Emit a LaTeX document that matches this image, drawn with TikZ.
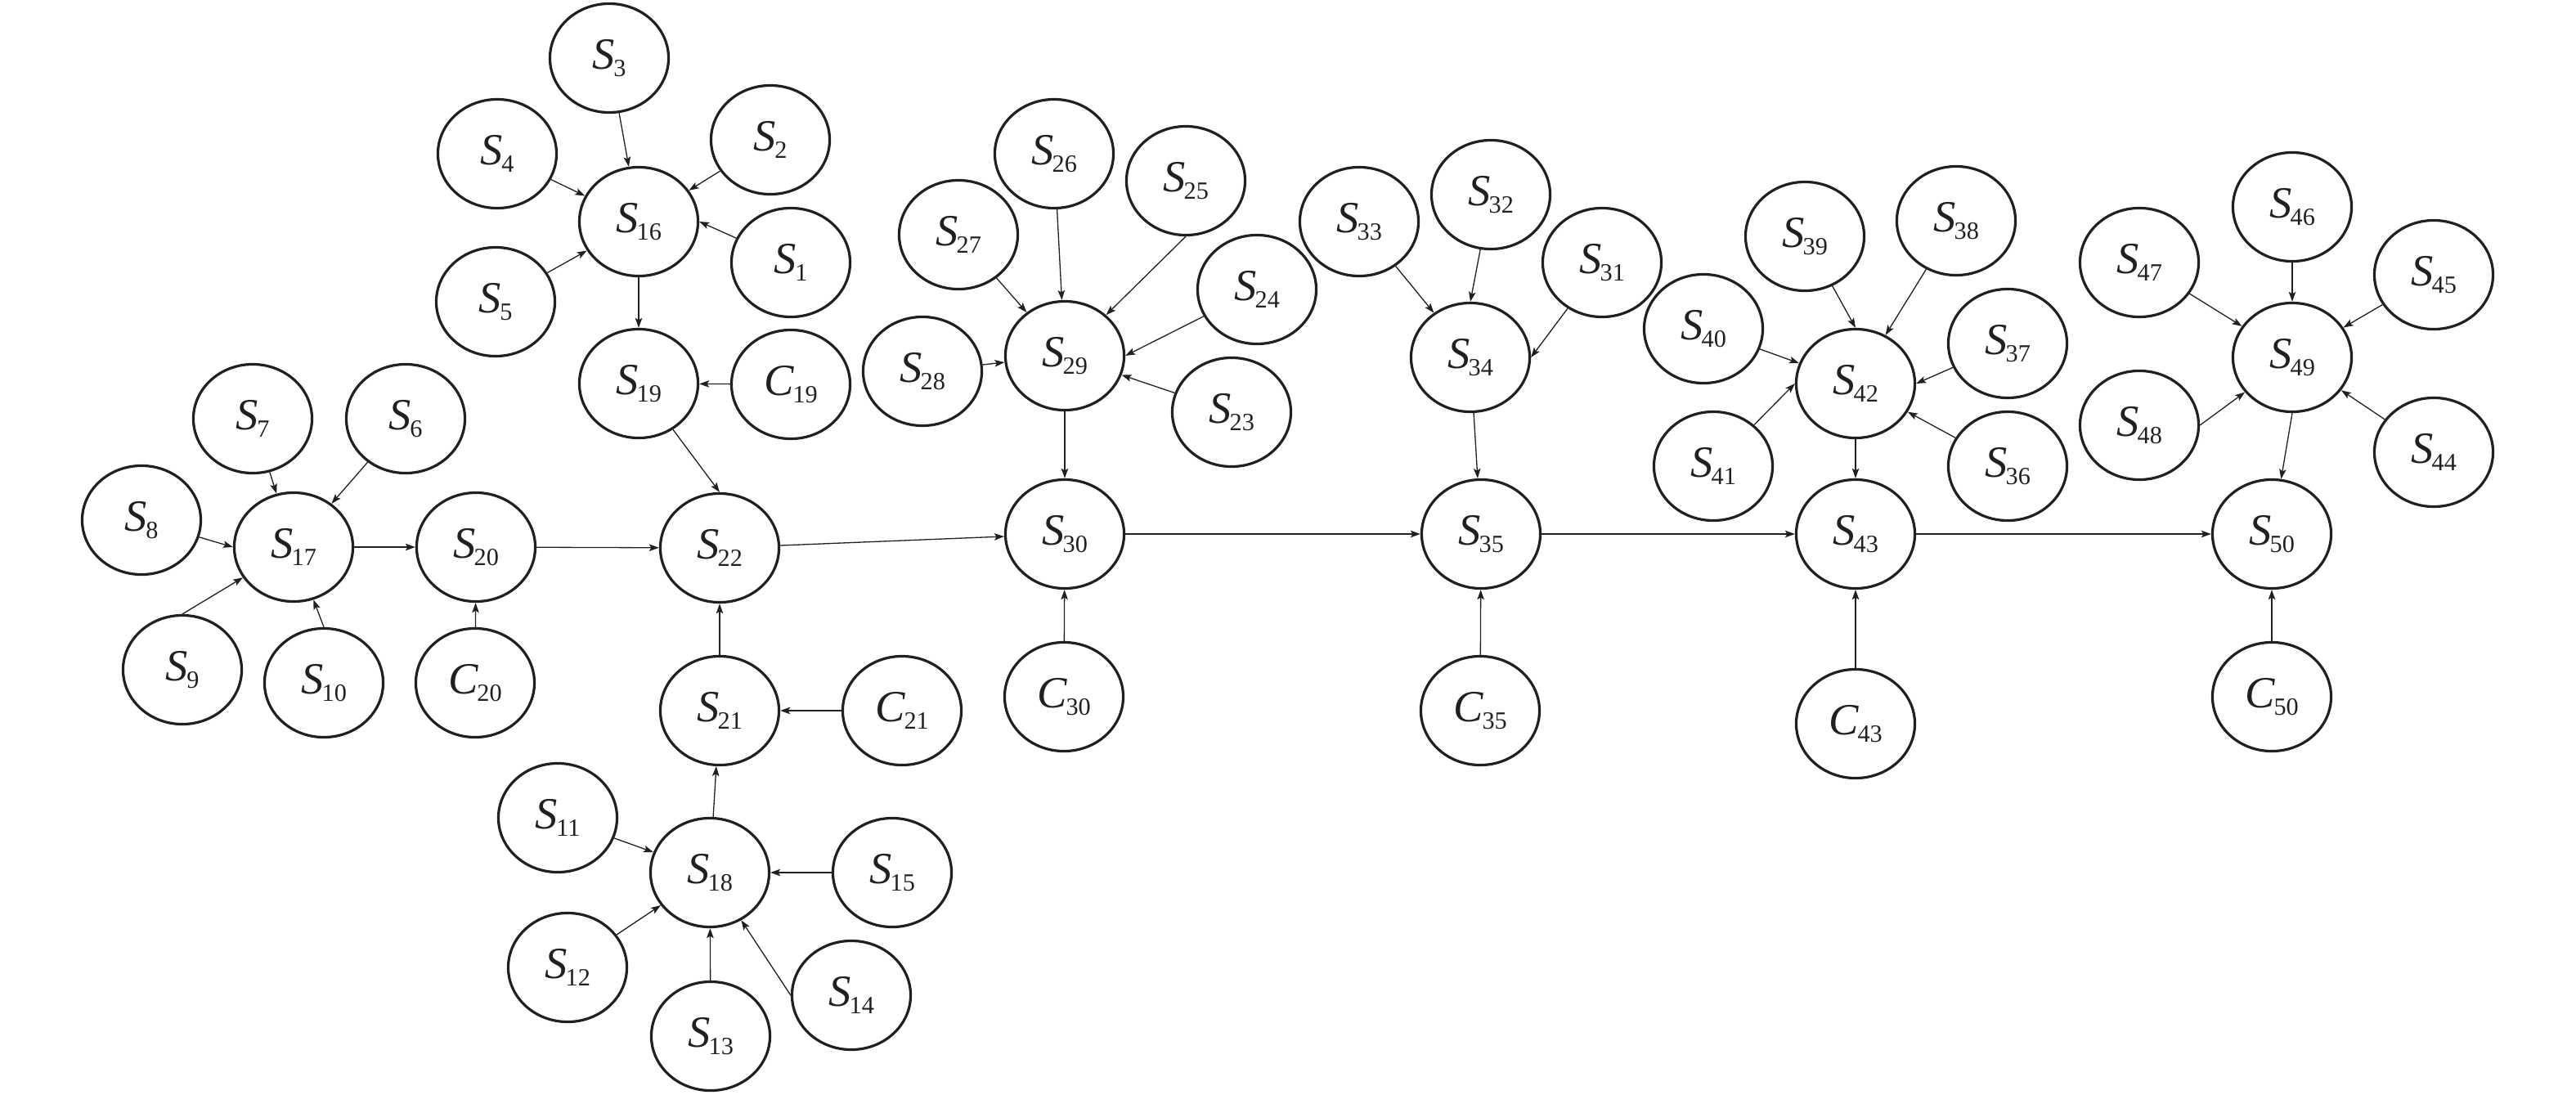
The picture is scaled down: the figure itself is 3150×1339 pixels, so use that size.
\documentclass[tikz,border=0pt]{standalone}
\usepackage{fontspec}
\setmainfont{Liberation Serif}
\usetikzlibrary{shapes.geometric,arrows.meta}
\definecolor{ink}{RGB}{35,31,32}
\newcommand{\lbl}[2]{\fontsize{15.5pt}{16pt}\selectfont\textit{#1}\kern-0.03em\raisebox{-2.4pt}{\fontsize{8.6pt}{9pt}\selectfont #2}}
\tikzset{
  nd/.style={ellipse, draw=ink, line width=0.032cm, minimum width=1.45cm, minimum height=1.33cm, inner sep=0pt, text=ink},
  ar/.style={draw=ink, line width=0.013cm, -{Stealth[length=0.12cm,width=0.085cm,inset=0.025cm]}}
}
\begin{document}
\begin{tikzpicture}[x=0.01cm,y=-0.01cm]
\useasboundingbox (0,0) rectangle (3150,1339);
% cluster S16
\node[nd] (S3)  at (745,71)   {\lbl{S}{3}};
\node[nd] (S4)  at (608,188)  {\lbl{S}{4}};
\node[nd] (S2)  at (942,171)  {\lbl{S}{2}};
\node[nd] (S16) at (781,271)  {\lbl{S}{16}};
\node[nd] (S1)  at (967,321)  {\lbl{S}{1}};
\node[nd] (S5)  at (606,369)  {\lbl{S}{5}};
\node[nd] (S19) at (781,469)  {\lbl{S}{19}};
\node[nd] (C19) at (967,470)  {\lbl{C}{19}};
% cluster S17
\node[nd] (S7)  at (309,512)  {\lbl{S}{7}};
\node[nd] (S6)  at (496,512)  {\lbl{S}{6}};
\node[nd] (S8)  at (173,636)  {\lbl{S}{8}};
\node[nd] (S17) at (359,669)  {\lbl{S}{17}};
\node[nd] (S20) at (582,669)  {\lbl{S}{20}};
\node[nd] (S9)  at (223,819)  {\lbl{S}{9}};
\node[nd] (S10) at (396,835)  {\lbl{S}{10}};
\node[nd] (C20) at (581,835)  {\lbl{C}{20}};
% cluster S22 / S18
\node[nd] (S22) at (880,670)  {\lbl{S}{22}};
\node[nd] (S21) at (880,869)  {\lbl{S}{21}};
\node[nd] (C21) at (1103,869) {\lbl{C}{21}};
\node[nd] (S11) at (682,1000) {\lbl{S}{11}};
\node[nd] (S18) at (868,1067) {\lbl{S}{18}};
\node[nd] (S15) at (1091,1067){\lbl{S}{15}};
\node[nd] (S12) at (694,1183) {\lbl{S}{12}};
\node[nd] (S13) at (869,1267) {\lbl{S}{13}};
\node[nd] (S14) at (1041,1217){\lbl{S}{14}};
% cluster S29
\node[nd] (S26) at (1289,188) {\lbl{S}{26}};
\node[nd] (S25) at (1450,221) {\lbl{S}{25}};
\node[nd] (S27) at (1172,287) {\lbl{S}{27}};
\node[nd] (S24) at (1537,354) {\lbl{S}{24}};
\node[nd] (S28) at (1128,454) {\lbl{S}{28}};
\node[nd] (S29) at (1302,435) {\lbl{S}{29}};
\node[nd] (S23) at (1506,504) {\lbl{S}{23}};
\node[nd] (S30) at (1302,653) {\lbl{S}{30}};
\node[nd] (C30) at (1301,852) {\lbl{C}{30}};
% cluster S34
\node[nd] (S33) at (1662,271) {\lbl{S}{33}};
\node[nd] (S32) at (1823,238) {\lbl{S}{32}};
\node[nd] (S31) at (1959,321) {\lbl{S}{31}};
\node[nd] (S34) at (1798,437) {\lbl{S}{34}};
\node[nd] (S35) at (1811,653) {\lbl{S}{35}};
\node[nd] (C35) at (1810,869) {\lbl{C}{35}};
% cluster S42
\node[nd] (S40) at (2083,402) {\lbl{S}{40}};
\node[nd] (S39) at (2207,289) {\lbl{S}{39}};
\node[nd] (S38) at (2392,270) {\lbl{S}{38}};
\node[nd] (S37) at (2455,420) {\lbl{S}{37}};
\node[nd] (S42) at (2269,469) {\lbl{S}{42}};
\node[nd] (S41) at (2095,570) {\lbl{S}{41}};
\node[nd] (S36) at (2455,570) {\lbl{S}{36}};
\node[nd] (S43) at (2269,653) {\lbl{S}{43}};
\node[nd] (C43) at (2269,885) {\lbl{C}{43}};
% cluster S49
\node[nd] (S47) at (2616,321) {\lbl{S}{47}};
\node[nd] (S46) at (2803,253) {\lbl{S}{46}};
\node[nd] (S45) at (2976,336) {\lbl{S}{45}};
\node[nd] (S49) at (2803,437) {\lbl{S}{49}};
\node[nd] (S48) at (2616,520) {\lbl{S}{48}};
\node[nd] (S44) at (2976,553) {\lbl{S}{44}};
\node[nd] (S50) at (2778,653) {\lbl{S}{50}};
\node[nd] (C50) at (2778,852) {\lbl{C}{50}};
% edges
\draw[ar] (S3) -- (S16);
\draw[ar] (S4) -- (S16);
\draw[ar] (S2) -- (S16);
\draw[ar] (S1) -- (S16.east);
\draw[ar] (S5) -- (S16);
\draw[ar] (S16) -- (S19);
\draw[ar] (C19) -- (S19);
\draw[ar] (S19) -- (S22.north);
\draw[ar] (S7) -- (S17);
\draw[ar] (S6) -- (S17);
\draw[ar] (S8) -- (S17.west);
\draw[ar] (S9.north) -- (S17);
\draw[ar] (S10.north) -- (S17);
\draw[ar] (S17) -- (S20);
\draw[ar] (C20) -- (S20);
\draw[ar] (S20) -- (S22);
\draw[ar] (S21) -- (S22);
\draw[ar] (C21) -- (S21);
\draw[ar] (S18) -- (S21);
\draw[ar] (S11) -- (S18);
\draw[ar] (S12) -- (S18);
\draw[ar] (S13) -- (S18);
\draw[ar] (S14.west) -- (S18);
\draw[ar] (S15) -- (S18);
\draw[ar] (S22) -- (S30);
\draw[ar] (S26) -- (S29);
\draw[ar] (S25.south) -- (S29);
\draw[ar] (S27) -- (S29);
\draw[ar] (S24) -- (S29.east);
\draw[ar] (S28) -- (S29);
\draw[ar] (S23) -- (S29);
\draw[ar] (S29) -- (S30);
\draw[ar] (C30) -- (S30);
\draw[ar] (S30) -- (S35);
\draw[ar] (S33) -- (S34);
\draw[ar] (S32) -- (S34.north);
\draw[ar] (S31) -- (S34.east);
\draw[ar] (S34) -- (S35);
\draw[ar] (C35) -- (S35);
\draw[ar] (S35) -- (S43);
\draw[ar] (S39) -- (S42.north);
\draw[ar] (S38) -- (S42);
\draw[ar] (S40) -- (S42);
\draw[ar] (S41) -- (S42.west);
\draw[ar] (S37) -- (S42.east);
\draw[ar] (S36) -- (S42);
\draw[ar] (S42) -- (S43);
\draw[ar] (C43) -- (S43);
\draw[ar] (S43) -- (S50);
\draw[ar] (S47) -- (S49);
\draw[ar] (S46) -- (S49);
\draw[ar] (S45) -- (S49);
\draw[ar] (S48.east) -- (S49);
\draw[ar] (S44) -- (S49);
\draw[ar] (S49.south) -- (S50);
\draw[ar] (C50) -- (S50);
\end{tikzpicture}
\end{document}
